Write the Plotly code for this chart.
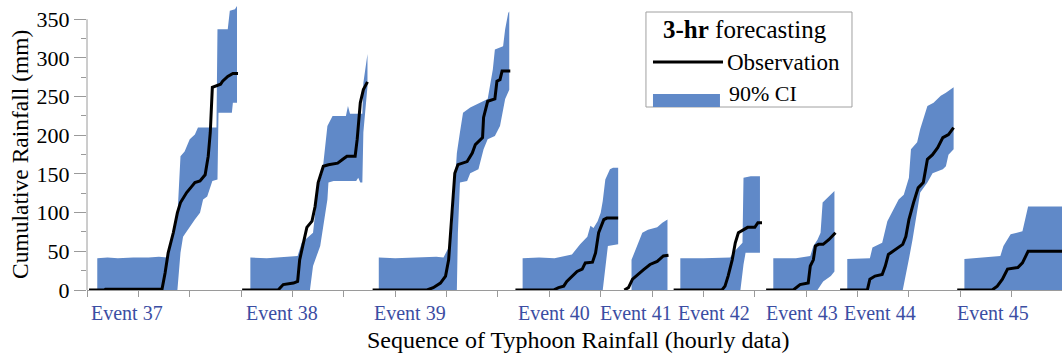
import plotly.graph_objects as go

# ---------------- data (x = hour index along the typhoon sequence, y = cumulative rainfall mm) -------------
event_names = ["Event 37", "Event 38", "Event 39", "Event 40", "Event 41",
               "Event 42", "Event 43", "Event 44", "Event 45"]
event_label_h = [39, 190, 314, 455, 534, 610, 696, 772, 882]

obs37_h = [2, 17, 18, 73, 76, 79, 84, 88, 91, 97, 102, 105, 110, 115, 118, 120, 122, 130, 132, 137, 142, 147]
obs37_v = [0, 0, 1, 1, 22, 48, 74, 100, 113, 126, 134, 139, 141, 149, 173, 204, 262, 266, 270, 276, 280, 280]
up37_h = [10, 20, 30, 45, 60, 70, 78, 88, 91, 95, 100, 105, 108, 115, 126, 127, 137, 139, 144, 146]
up37_v = [41, 42, 41, 42, 42, 43, 42, 95, 173, 179, 195, 201, 210, 210, 210, 337, 337, 361, 363, 367]
lo37_h = [10, 88, 91, 93.5, 100, 105, 110, 113, 117, 122, 127, 128, 141, 142, 146]
lo37_v = [0, 0, 48, 69, 82, 91, 100, 117, 121, 141, 143, 229, 229, 242, 242]

obs38_h = [151, 186, 191, 201, 205, 207, 210, 214, 219, 222, 225, 230, 235, 244, 249, 253, 261, 263, 266, 269, 273]
obs38_v = [0, 0, 7, 9, 11, 39, 57, 81, 89, 108, 139, 160, 162, 164, 169, 173, 173, 195, 242, 259, 269]
up38_h = [159, 175, 195, 205, 209, 220, 225, 229, 234, 239, 252, 254, 256, 268, 269, 273]
up38_v = [42, 41, 43, 44, 61, 74, 134, 151, 212, 225, 225, 238, 228, 228, 268, 305]
lo38_h = [159, 217, 220, 227, 234, 235, 240, 262, 264, 266, 268, 269, 273]
lo38_v = [0, 0, 31, 57, 117, 139, 141, 141, 145, 139, 139, 204, 263]

obs39_h = [278, 331, 337, 344, 349, 352, 355, 358, 361, 370, 375, 378, 385, 386, 390, 397, 399, 402, 404, 412]
obs39_v = [0, 0, 3, 9, 18, 39, 95, 151, 162, 166, 177, 188, 197, 223, 244, 247, 270, 272, 283, 283]
up39_h = [284, 300, 320, 340, 347, 352, 355, 360, 363, 366, 373, 383, 390, 395, 397, 405, 407, 410, 411]
up39_v = [42, 41, 42, 43, 42, 55, 74, 177, 204, 229, 236, 242, 247, 285, 311, 315, 337, 358, 360]
lo39_h = [284, 360, 361, 363, 370, 373, 381, 386, 390, 397, 402, 407, 411]
lo39_v = [0, 0, 74, 139, 141, 151, 156, 182, 195, 199, 212, 247, 259]

obs40_h = [417, 454, 459, 464, 467, 472, 477, 482, 485, 492, 495, 498, 503, 506, 517]
obs40_v = [0, 0, 3, 5, 11, 18, 24, 27, 35, 36, 48, 74, 91, 93, 93]
up40_h = [424, 440, 455, 467, 472, 480, 487, 490, 493, 497, 500, 502, 504.5, 509, 512, 517]
up40_v = [41, 42, 41, 44, 46, 59, 69, 83, 80, 89, 100, 115, 143, 156, 158, 158]
lo40_h = [424, 502, 504.5, 507, 517]
lo40_v = [0, 0, 31, 57, 59]

obs41_h = [523, 527, 531, 536, 541.5, 548, 555, 561, 566]
obs41_v = [0, 3, 14, 20, 26, 33, 37, 44, 45]
up41_h = [530, 536, 540.5, 546, 555, 560, 565]
up41_v = [39, 59, 74, 78, 81, 87, 91]
lo41_h = [530, 565]
lo41_v = [0, 0]

obs42_h = [571, 618, 621, 624, 628, 631, 634, 639, 643, 650, 653, 657]
obs42_v = [0, 0, 5, 18, 39, 61, 74, 78, 81, 81, 87, 87]
up42_h = [577.5, 600, 626, 629, 638, 639, 646, 655]
up42_v = [41, 41, 42, 48, 61, 145, 147, 147]
lo42_h = [577.5, 636, 639, 641, 655]
lo42_v = [0, 0, 33, 48, 48]

obs43_h = [661, 687.5, 694, 702, 704, 707, 709, 712, 716.5, 722, 728.5]
obs43_v = [0, 0, 7, 9, 31, 39, 57, 59, 59, 65, 74]
up43_h = [668, 690, 704, 707, 711, 714, 716, 719, 724, 727.5]
up43_v = [41, 41, 44, 57, 65, 74, 113, 117, 123, 128]
lo43_h = [668, 711, 716.5, 724, 727.5]
lo43_v = [0, 0, 11, 18, 24]

obs44_h = [733, 759.5, 762, 767, 774, 777, 780, 787, 794, 797, 800, 804.5, 809, 814, 818, 823, 828, 833, 838.5, 843.5]
obs44_v = [0, 0, 14, 18, 20, 31, 46, 52, 59, 69, 91, 113, 132, 139, 169, 175, 184, 197, 201, 210]
up44_h = [740, 762, 764.5, 774, 779, 784, 790, 795, 800, 802, 808, 811, 818, 824, 831, 836, 840.5, 843.5]
up44_v = [40, 41, 55, 61, 89, 102, 117, 123, 145, 182, 191, 208, 238, 242, 251, 255, 259, 262]
lo44_h = [740, 794, 797, 800, 803.5, 808, 811, 818, 823, 833, 836, 838.5, 843.5]
lo44_v = [0, 0, 18, 40, 65, 100, 126, 139, 151, 156, 160, 175, 182]

obs45_h = [847, 881, 886, 891, 896, 906, 910.5, 916, 960]
obs45_v = [0, 0, 5, 14, 27, 29, 35, 50, 50]
up45_h = [854, 889, 892, 899, 910.5, 916, 960]
up45_v = [40, 44, 57, 72, 76, 108, 108]
lo45_h = [854, 960]
lo45_v = [0, 0]

obs_h = [obs37_h, obs38_h, obs39_h, obs40_h, obs41_h, obs42_h, obs43_h, obs44_h, obs45_h]
obs_v = [obs37_v, obs38_v, obs39_v, obs40_v, obs41_v, obs42_v, obs43_v, obs44_v, obs45_v]
up_h = [up37_h, up38_h, up39_h, up40_h, up41_h, up42_h, up43_h, up44_h, up45_h]
up_v = [up37_v, up38_v, up39_v, up40_v, up41_v, up42_v, up43_v, up44_v, up45_v]
lo_h = [lo37_h, lo38_h, lo39_h, lo40_h, lo41_h, lo42_h, lo43_h, lo44_h, lo45_h]
lo_v = [lo37_v, lo38_v, lo39_v, lo40_v, lo41_v, lo42_v, lo43_v, lo44_v, lo45_v]

y_ticks = [0, 50, 100, 150, 200, 250, 300, 350]

# ---------------- styling ----------------
FONT = "Liberation Serif"
CI_COLOR = "#6089c8"
AXIS_COLOR = "#9a9a9a"
LABEL_COLOR = "#3b4ea3"

fig = go.Figure()

for i in range(len(event_names)):
    fig.add_trace(go.Scatter(
        x=list(up_h[i]) + list(reversed(lo_h[i])),
        y=list(up_v[i]) + list(reversed(lo_v[i])),
        fill="toself", fillcolor=CI_COLOR, mode="lines",
        line=dict(width=0, color=CI_COLOR), hoverinfo="skip",
        name="90% CI", showlegend=False))

for i in range(len(event_names)):
    fig.add_trace(go.Scatter(
        x=obs_h[i], y=obs_v[i], mode="lines",
        line=dict(color="black", width=3),
        name="Observation", showlegend=False))

# event labels under the axis
for name, hx in zip(event_names, event_label_h):
    fig.add_annotation(x=hx, y=-0.078, xref="x", yref="paper", text=name,
                       showarrow=False, xanchor="center", yanchor="middle",
                       font=dict(family=FONT, size=20, color=LABEL_COLOR))

# axis titles
fig.add_annotation(xref="paper", yref="paper", x=0.5036, y=-0.172, showarrow=False,
                   text="Sequence of Typhoon Rainfall (hourly data)", xanchor="center", yanchor="middle",
                   font=dict(family=FONT, size=24, color="black"))
fig.add_annotation(xref="paper", yref="paper", x=-0.0687, y=0.466, showarrow=False, textangle=-90,
                   text="Cumulative Rainfall (mm)", xanchor="center", yanchor="middle",
                   font=dict(family=FONT, size=23.5, color="black"))

# y axis line (only up to 350)
fig.add_shape(type="line", xref="paper", yref="y", x0=0, x1=0, y0=0, y1=350,
              line=dict(color=AXIS_COLOR, width=1))

# custom legend
fig.add_shape(type="rect", xref="paper", yref="paper", x0=0.5733, x1=0.7846, y0=0.631, y1=0.9586,
              line=dict(color="#a0a0a0", width=1), fillcolor="white", layer="above")
fig.add_annotation(xref="paper", yref="paper", x=0.6749, y=0.8966, showarrow=False,
                   text="<b>3-hr</b> forecasting", xanchor="center", yanchor="middle",
                   font=dict(family=FONT, size=25, color="black"))
fig.add_shape(type="line", xref="paper", yref="paper", x0=0.5805, x1=0.6523, y0=0.7862, y1=0.7862,
              line=dict(color="black", width=3), layer="above")
fig.add_annotation(xref="paper", yref="paper", x=0.6544, y=0.7862, showarrow=False,
                   text="Observation", xanchor="left", yanchor="middle",
                   font=dict(family=FONT, size=23, color="black"))
fig.add_shape(type="rect", xref="paper", yref="paper", x0=0.5805, x1=0.6492, y0=0.631, y1=0.6759,
              line=dict(width=0), fillcolor=CI_COLOR, layer="above")
fig.add_annotation(xref="paper", yref="paper", x=0.6564, y=0.6793, showarrow=False,
                   text="90% CI", xanchor="left", yanchor="middle",
                   font=dict(family=FONT, size=22, color="black"))

fig.update_layout(
    width=1062, height=354,
    margin=dict(l=87, r=0, t=0, b=64, autoexpand=False),
    paper_bgcolor="white", plot_bgcolor="white",
    font=dict(family=FONT, size=20, color="black"),
    showlegend=False,
    xaxis=dict(range=[0, 949], showgrid=False, zeroline=False, showline=True, automargin=False,
               linecolor=AXIS_COLOR, linewidth=1, ticks="outside", ticklen=6,
               tickcolor=AXIS_COLOR, tick0=0, dtick=50, showticklabels=False),
    yaxis=dict(range=[0, 374.9], showgrid=False, zeroline=False, showline=False, automargin=False,
               tickmode="array", tickvals=y_ticks, ticks="outside", ticklen=12,
               tickcolor=AXIS_COLOR, tickfont=dict(family=FONT, size=22, color="black"),
               minor=dict(dtick=25, tick0=0, ticks="outside", ticklen=5, tickcolor=AXIS_COLOR)),
)

fig.write_html("out.html", config={"displayModeBar": False},
               post_script="document.body.style.margin='0px';document.body.style.overflow='hidden';")
